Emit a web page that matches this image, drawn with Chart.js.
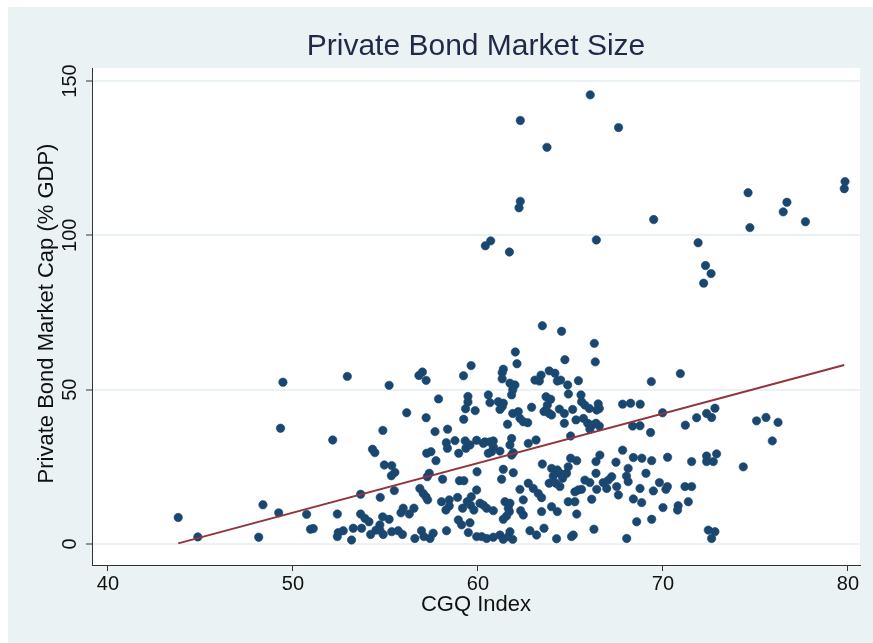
<!DOCTYPE html>
<html>
<head>
<meta charset="utf-8">
<title>Private Bond Market Size</title>
<script src="https://cdn.jsdelivr.net/npm/chart.js@4.4.1/dist/chart.umd.min.js"></script>
<style>
  html, body { margin: 0; padding: 0; background: #ffffff; }
  #c { display: block; }
</style>
</head>
<body>
<canvas id="c" width="873" height="643"></canvas>
<script>
// CGQ index (x) and private bond market capitalisation, % of GDP (y)
const cgq = [
  66.07,62.29,63.73,67.6,74.6,76.7,76.5,79.84,79.8,77.7,
  74.7,69.5,62.29,62.22,60.69,60.4,61.7,66.4,71.9,72.3,
  72.6,72.2,
  49.46,49.33,52.15,43.8,44.86,48.38,49.23,48.15,50.74,50.95,
  51.1,52.4,52.4,52.45,
  52.94,55.2,56.81,57.0,57.2,59.22,59.63,57.87,59.46,59.46,
  59.33,59.85,56.15,57.2,59.23,54.86,57.68,58.36,58.29,58.76,
  59.31,59.93,
  54.3,54.43,54.94,55.34,55.51,55.32,53.66,54.72,55.48,53.66,
  53.89,54.11,54.85,55.2,54.7,54.7,55.96,55.84,56.29,56.54,
  56.86,57.04,57.19,57.28,57.37,57.26,57.23,57.46,57.73,58.09,
  58.35,58.96,59.35,59.0,59.24,58.03,58.45,58.9,58.45,58.27,
  59.17,59.42,59.64,59.95,59.93,59.6,59.78,58.94,59.12,59.57,
  58.3,59.48,59.93,52.72,53.26,53.71,53.17,54.2,54.49,54.88,
  55.34,55.69,55.92,56.59,56.95,57.08,57.41,57.58,
  63.48,64.52,66.29,62.02,62.11,64.7,66.34,61.37,61.31,61.31,
  61.73,62.0,61.88,61.82,63.08,63.41,63.32,63.85,64.16,64.29,
  64.47,64.85,65.43,60.56,60.65,61.1,61.31,61.37,61.19,61.88,
  62.18,62.27,62.45,62.69,61.6,62.9,63.68,63.93,63.68,63.85,
  63.98,63.57,63.75,64.4,64.67,64.89,65.12,64.67,65.57,65.6,
  65.78,66.02,66.5,66.56,66.42,65.3,65.7,65.93,66.15,66.38,
  66.56,66.05,65.01,60.38,60.83,61.82,62.72,
  59.57,60.29,60.65,60.83,60.74,60.56,61.19,61.73,61.91,61.82,
  63.14,61.37,61.28,61.91,63.48,63.98,64.29,64.43,64.07,63.85,
  64.21,64.43,64.58,64.79,64.88,65.01,65.34,66.38,66.59,67.46,
  66.38,65.78,66.05,66.42,66.77,67.05,67.23,66.96,67.5,67.59,
  65.42,65.6,65.24,66.15,60.11,60.29,60.47,60.83,61.46,
  61.73,61.64,61.7,61.55,61.37,62.45,62.31,62.45,62.27,62.72,
  62.99,63.26,63.44,63.44,63.98,64.29,64.88,65.24,65.34,
  60.2,60.47,60.83,61.19,61.37,61.64,61.73,61.88,62.81,63.17,
  63.57,64.25,65.06,65.15,66.27,
  69.37,70.94,67.82,68.25,68.77,69.98,68.36,68.76,69.33,71.21,
  71.82,72.36,72.63,72.81,75.06,
  67.82,68.4,68.86,69.39,70.25,71.55,72.36,72.9,72.36,72.72,
  74.34,68.12,68.03,68.12,69.08,
  68.76,69.48,69.81,70.16,70.24,71.19,71.55,68.4,68.85,70.0,
  70.82,70.79,71.37,68.58,69.39,68.04,72.45,72.81,72.63,
  75.57,76.22,75.91
];
const bondCap = [
  145.5,137.2,128.5,134.9,113.8,110.7,107.6,117.4,115.1,104.4,
  102.5,105.1,111.0,108.9,98.2,96.6,94.6,98.5,97.6,90.2,
  87.6,84.5,
  52.4,37.5,33.7,8.6,2.3,12.7,10.1,2.2,9.6,4.8,
  5.0,9.7,2.4,3.7,
  54.3,51.4,54.6,55.7,53.0,54.5,57.8,47.0,47.8,46.0,
  43.8,43.2,42.5,40.9,40.4,36.8,36.4,37.2,32.8,33.5,
  33.4,33.6,
  30.7,29.6,25.6,25.4,23.2,22.1,16.1,15.1,17.3,9.7,
  8.3,7.2,8.8,8.0,6.2,4.5,11.6,10.1,9.7,11.6,
  18.0,16.4,15.3,14.3,22.9,21.8,29.4,29.9,27.0,21.0,
  31.0,29.4,31.0,20.5,20.5,13.7,14.3,15.1,12.3,11.0,
  11.6,13.7,15.3,23.4,17.5,12.6,11.0,7.8,6.2,6.9,
  4.3,3.7,2.4,4.3,5.1,5.1,1.3,3.1,4.5,3.1,
  4.0,4.3,3.1,1.8,4.3,2.4,1.8,3.5,
  70.7,68.9,65.0,62.2,58.4,59.7,59.0,56.6,55.5,53.5,
  52.1,51.5,49.9,48.3,53.1,54.7,52.8,56.1,55.3,52.8,
  53.1,51.5,52.9,48.3,45.8,46.1,44.5,45.6,43.6,42.3,
  42.9,40.7,39.6,39.3,38.8,44.3,47.7,46.9,43.4,42.3,
  41.8,42.9,45.0,43.7,42.3,48.6,43.6,39.1,48.3,46.1,
  45.0,43.9,45.4,43.9,43.4,40.2,40.7,39.1,38.5,39.1,
  38.2,37.2,35.0,33.1,33.4,34.2,32.6,
  32.1,32.6,33.1,31.5,29.9,29.4,30.1,32.1,29.6,28.8,
  33.7,24.2,21.0,23.1,25.9,24.5,24.0,22.9,22.0,19.7,
  19.7,18.6,21.3,22.9,25.0,27.8,27.0,26.7,28.8,26.5,
  22.9,20.7,19.9,17.7,19.9,20.7,21.8,18.0,18.6,15.9,
  17.5,17.7,16.9,14.5,13.2,12.6,11.6,10.8,13.7,
  13.2,11.6,10.5,9.1,8.0,14.3,10.8,9.4,17.7,19.7,
  18.0,16.4,15.0,10.5,12.1,10.5,13.7,13.7,9.7,
  2.4,1.8,2.2,2.9,1.5,2.4,4.0,1.5,4.3,2.9,
  5.1,1.7,2.4,2.9,4.8,
  52.6,55.2,45.3,45.6,45.3,42.5,38.2,38.3,36.1,38.5,
  40.9,42.3,41.0,44.0,39.9,
  30.4,28.0,27.8,27.0,28.1,26.7,28.5,29.2,26.7,26.7,
  25.0,24.5,22.0,20.2,22.9,
  18.0,17.2,19.9,17.7,18.6,18.6,18.6,14.6,13.4,11.8,
  12.4,11.0,13.7,7.2,8.0,1.8,4.5,4.0,1.8,
  41.0,39.4,33.4
];

// Fitted values line (ends of the linear fit)
const fitX = [43.8, 79.8];
const fitY = [0.2, 58.0];

// Axis ticks and labels
const xTicks = [40, 50, 60, 70, 80];
const yTicks = [0, 50, 100, 150];
const chartTitle = 'Private Bond Market Size';
const xTitle = 'CGQ Index';
const yTitle = 'Private Bond Market Cap (% GDP)';

const FONT = '"Liberation Sans", Arial, Helvetica, sans-serif';
const NAVY = '#1a476f';
const MAROON = '#90353b';
const PALE = '#eaf2f3';
const AXIS = '#333333';

const points = cgq.map((x, i) => ({ x: x, y: bondCap[i] }));
const fitLine = fitX.map((x, i) => ({ x: x, y: fitY[i] }));

// Panel backgrounds plus the title, rotated y tick labels and y title
const panelPlugin = {
  id: 'panel',
  beforeDraw(chart) {
    const { ctx, chartArea: a, width, height } = chart;
    ctx.save();
    ctx.fillStyle = '#ffffff';
    ctx.fillRect(0, 0, width, height);
    ctx.fillStyle = PALE;
    ctx.fillRect(8, 7, width - 8, height - 7);
    ctx.fillStyle = '#ffffff';
    ctx.fillRect(a.left, a.top, a.right - a.left, a.bottom - a.top);
    ctx.restore();
  },
  afterDraw(chart) {
    const { ctx, chartArea: a } = chart;
    const ys = chart.scales.y;
    ctx.save();
    ctx.textAlign = 'center';
    ctx.textBaseline = 'middle';
    ctx.fillStyle = '#1e2a48';
    ctx.font = '30px ' + FONT;
    ctx.fillText(chartTitle, (a.left + a.right) / 2, 47);

    ctx.fillStyle = '#111111';
    ctx.font = '20px ' + FONT;
    yTicks.forEach(v => {
      const py = ys.getPixelForValue(v);
      ctx.save();
      ctx.translate(70, py);
      ctx.rotate(-Math.PI / 2);
      ctx.fillText(String(v), 0, 0);
      ctx.restore();
    });

    ctx.font = '22px ' + FONT;
    ctx.save();
    ctx.translate(47, (a.top + a.bottom) / 2 - 3);
    ctx.rotate(-Math.PI / 2);
    ctx.fillText(yTitle, 0, 0);
    ctx.restore();
    ctx.restore();
  }
};

new Chart(document.getElementById('c'), {
  type: 'scatter',
  data: {
    datasets: [
      {
        type: 'line',
        data: fitLine,
        borderColor: MAROON,
        borderWidth: 2,
        pointRadius: 0,
        fill: false,
        order: 0
      },
      {
        type: 'scatter',
        data: points,
        backgroundColor: NAVY,
        borderColor: NAVY,
        borderWidth: 0.6,
        pointRadius: 4.2,
        order: 1
      }
    ]
  },
  options: {
    responsive: false,
    devicePixelRatio: 1,
    animation: false,
    events: [],
    layout: { padding: { top: 68, right: 13, bottom: 0, left: 0 } },
    plugins: {
      legend: { display: false },
      tooltip: { enabled: false },
      title: { display: false }
    },
    scales: {
      x: {
        type: 'linear',
        min: 39.14,
        max: 80.65,
        afterBuildTicks: s => { s.ticks = xTicks.map(v => ({ value: v })); },
        afterFit: s => { s.height = 78; },
        grid: { drawOnChartArea: false, drawTicks: true, tickLength: 6, tickColor: AXIS, tickWidth: 1 },
        border: { display: true, color: AXIS, width: 1 },
        ticks: { color: '#111111', font: { family: FONT, size: 20 }, padding: 1, maxRotation: 0, minRotation: 0 },
        title: { display: true, text: xTitle, color: '#111111', font: { family: FONT, size: 22 }, padding: { top: 0, bottom: 25 } }
      },
      y: {
        type: 'linear',
        min: -6.8,
        max: 154.2,
        afterBuildTicks: s => { s.ticks = yTicks.map(v => ({ value: v })); },
        afterFit: s => { s.width = 92; },
        grid: { color: PALE, lineWidth: 2, drawTicks: true, tickLength: 6, tickColor: AXIS, tickWidth: 1 },
        border: { display: true, color: AXIS, width: 1 },
        ticks: { display: false }
      }
    }
  },
  plugins: [panelPlugin]
});
</script>
</body>
</html>
